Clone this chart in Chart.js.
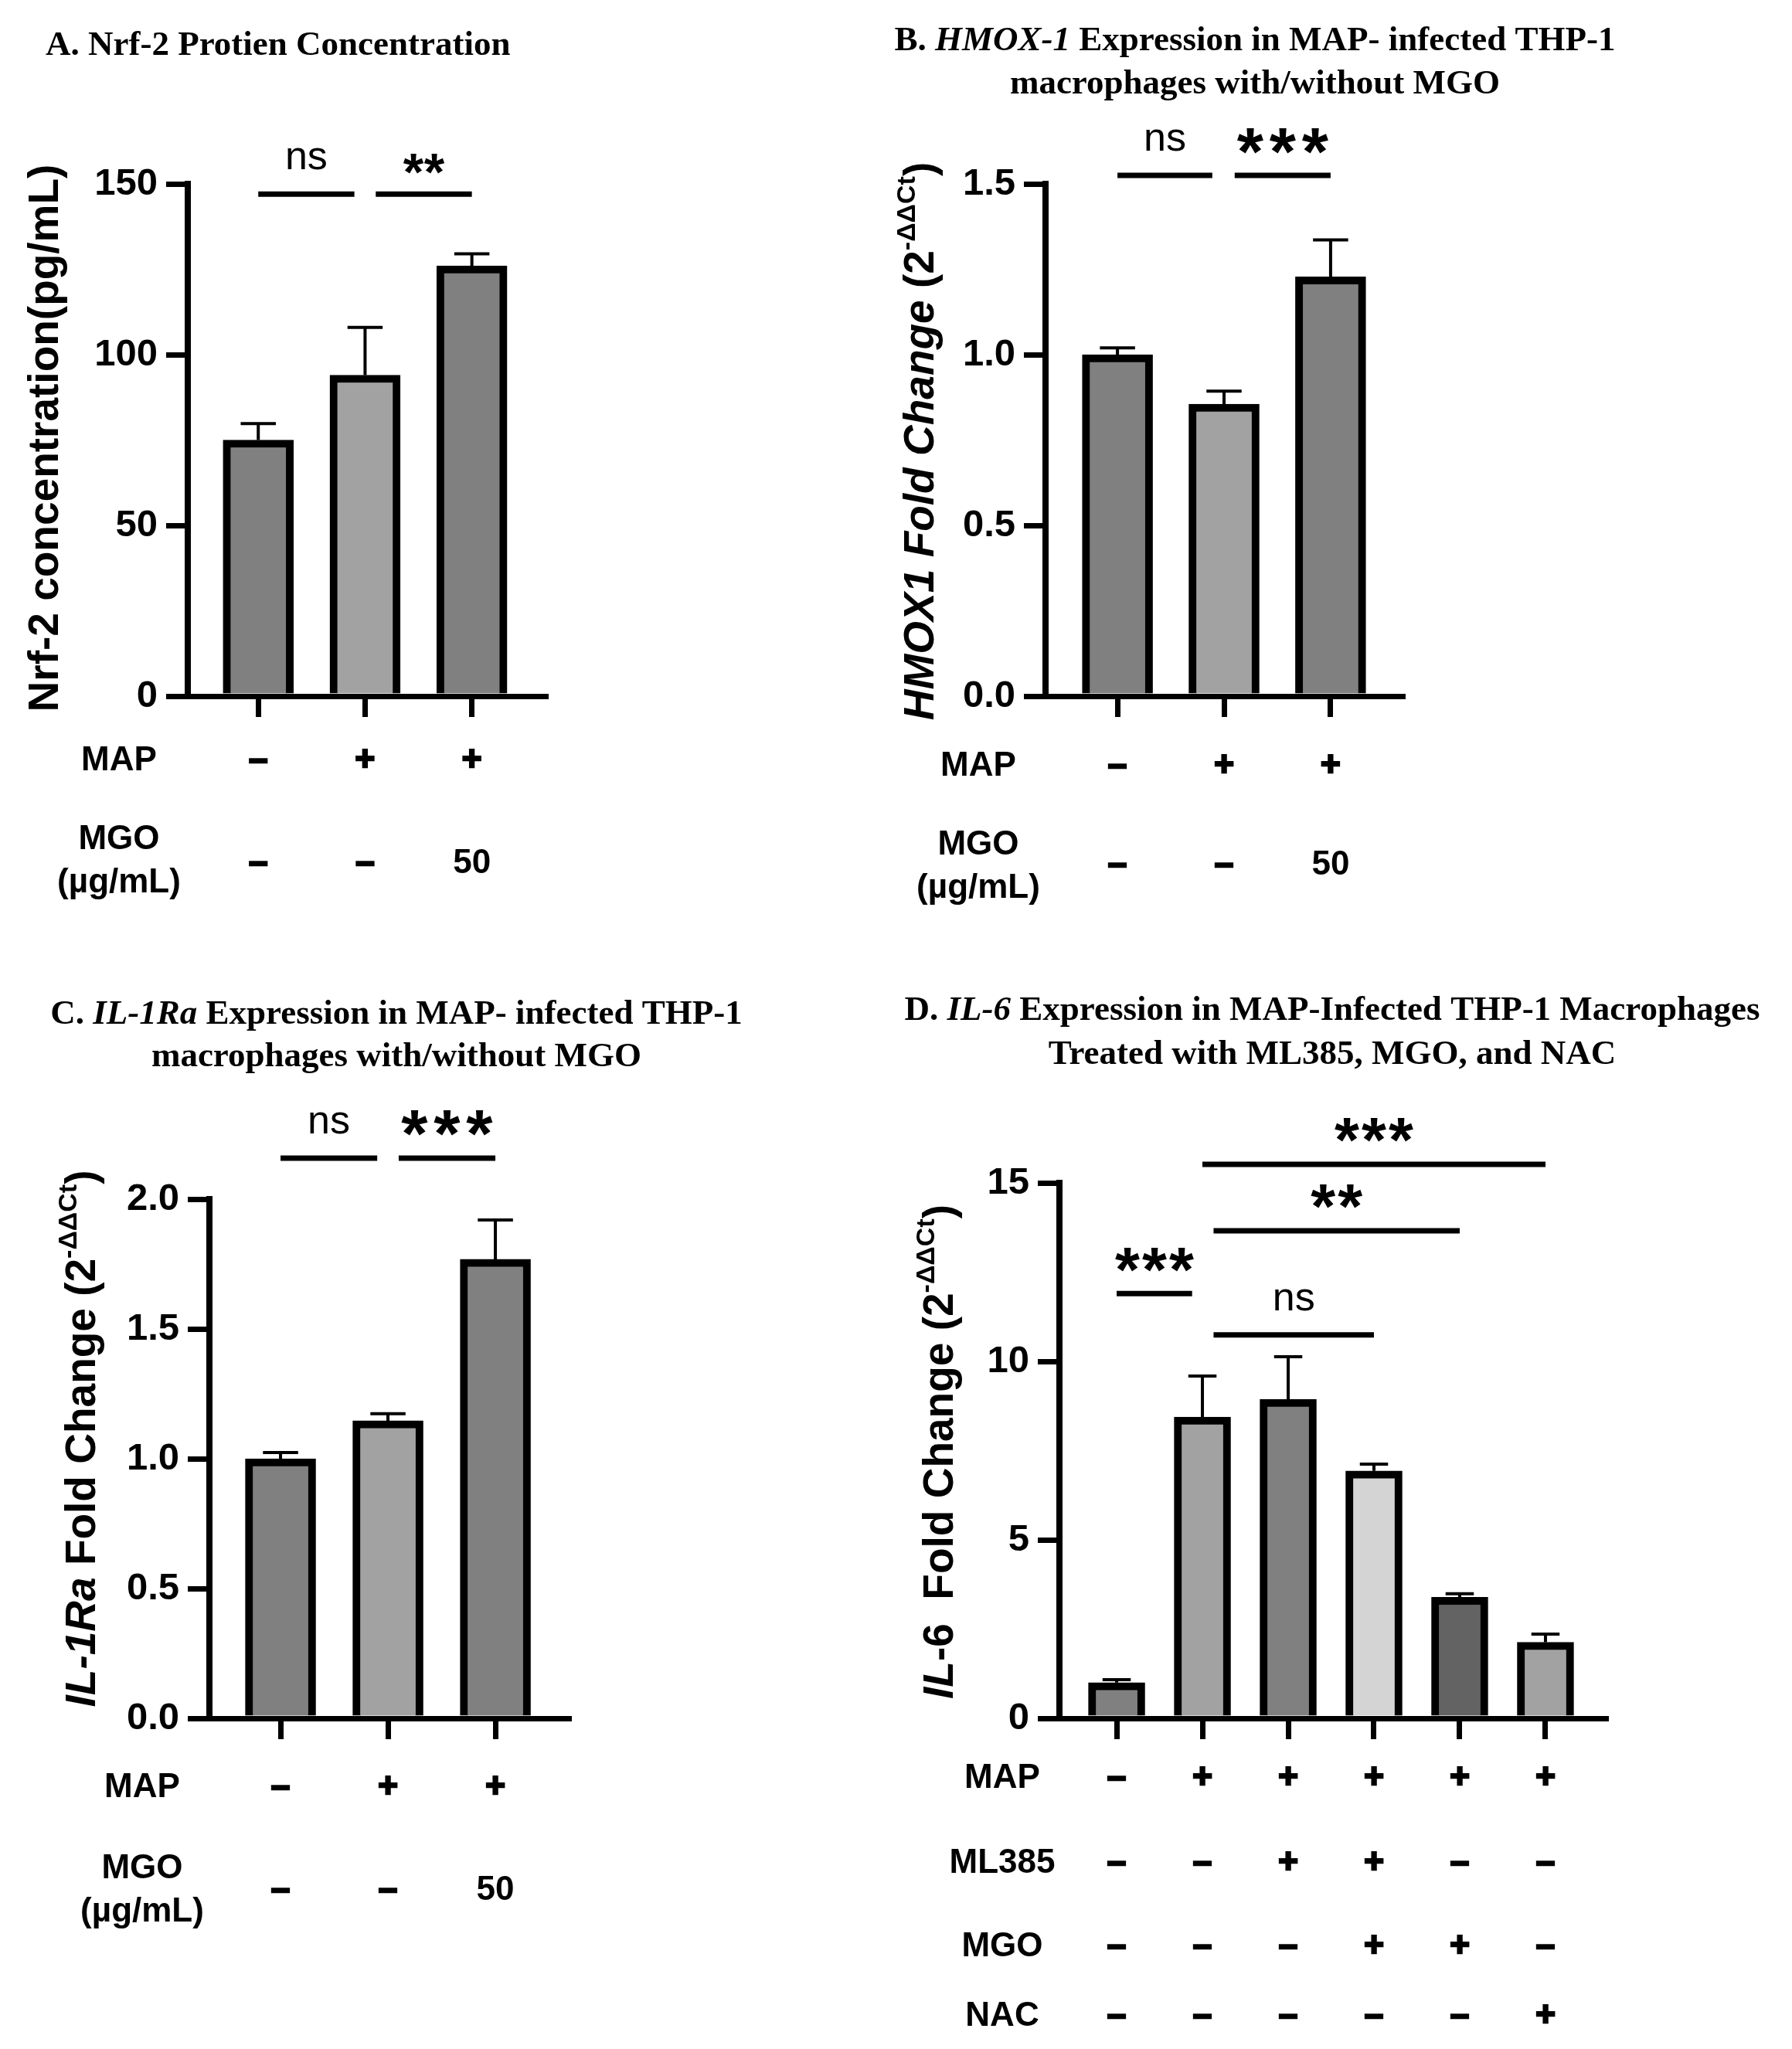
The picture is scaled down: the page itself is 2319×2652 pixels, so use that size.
<!DOCTYPE html>
<html>
<head>
<meta charset="utf-8">
<title>Nrf-2 / HMOX-1 / IL-1Ra / IL-6 in MAP-infected THP-1 macrophages</title>
<script src="https://cdn.jsdelivr.net/npm/chart.js@4.4.0/dist/chart.umd.min.js"></script>
<style>
  body { margin: 0; background: #fff; }
  #page { position: relative; width: 2319px; height: 2652px; background: #fff; }
  #page canvas { position: absolute; }
</style>
</head>
<body>
<div id="page">
  <canvas id="chartA" width="1140" height="1270" style="left:0px;top:0px"></canvas>
  <canvas id="chartB" width="1179" height="1270" style="left:1140px;top:0px"></canvas>
  <canvas id="chartC" width="1140" height="1382" style="left:0px;top:1270px"></canvas>
  <canvas id="chartD" width="1179" height="1382" style="left:1140px;top:1270px"></canvas>
</div>
<script>
const SANS = '"Liberation Sans", Arial, Helvetica, sans-serif';
const SERIF = '"Liberation Serif", "Times New Roman", serif';
Chart.defaults.font.family = SANS;
Chart.defaults.color = '#000';

// ---------------- data ----------------
// A. Nrf-2 protein (pg/mL)
const nrfMeans  = [75, 94, 126];
const nrfUpper  = [79.8, 108, 129.5];          // mean + error
const nrfColors = ['#808080', '#a2a2a2', '#808080'];
const nrfTicks  = [0, 50, 100, 150];
const nrfMAP    = ['–', '+', '+'];
const nrfMGO    = ['–', '–', '50'];
const nrfSig    = [[0, 0.9, 147, 'ns'], [1.1, 2, 147, '**']];

// B. HMOX1 fold change
const hmoxMeans  = [1.0, 0.855, 1.228];
const hmoxUpper  = [1.02, 0.893, 1.336];
const hmoxColors = ['#808080', '#a2a2a2', '#808080'];
const hmoxTicks  = [0, 0.5, 1.0, 1.5];
const hmoxMAP    = ['–', '+', '+'];
const hmoxMGO    = ['–', '–', '50'];
const hmoxSig    = [[0, 0.89, 1.525, 'ns'], [1.1, 2, 1.525, '***']];

// C. IL-1Ra fold change
const il1Means  = [1.0, 1.146, 1.768];
const il1Upper  = [1.024, 1.173, 1.92];
const il1Colors = ['#808080', '#a2a2a2', '#808080'];
const il1Ticks  = [0, 0.5, 1.0, 1.5, 2.0];
const il1MAP    = ['–', '+', '+'];
const il1MGO    = ['–', '–', '50'];
const il1Sig    = [[0, 0.9, 2.158, 'ns'], [1.1, 2, 2.158, '***']];

// D. IL-6 fold change
const il6Means  = [1.0, 8.44, 8.94, 6.93, 3.39, 2.13];
const il6Upper  = [1.08, 9.59, 10.13, 7.12, 3.49, 2.36];
const il6Colors = ['#808080', '#a2a2a2', '#808080', '#d4d4d4', '#636363', '#a2a2a2'];
const il6Ticks  = [0, 5, 10, 15];
const il6MAP    = ['–', '+', '+', '+', '+', '+'];
const il6ML385  = ['–', '–', '+', '+', '–', '–'];
const il6MGO    = ['–', '–', '–', '+', '+', '–'];
const il6NAC    = ['–', '–', '–', '–', '–', '+'];
const il6Sig    = [[0, 0.88, 11.9, '***'], [1.13, 3, 10.74, 'ns'], [1.13, 4, 13.66, '**'], [1, 5, 15.52, '***']];

// ---------------- layout (page pixels) ----------------
const panels = [
  {
    canvas: 'chartA', box: {left: 0, top: 0, w: 1140, h: 1270},
    area: {left: 243, right: 706, top: 238, bottom: 901}, xMin: -0.66, xMax: 2.69,
    means: nrfMeans, upper: nrfUpper, colors: nrfColors, ticks: nrfTicks, dec: 0, yMax: 150,
    barWidth: 91, sig: nrfSig, star: {size: 68, pitch: 27, rise: 39},
    title: {align: 'left', x: 59, y: [71], lines: [[['A. Nrf-2 Protien Concentration']]]},
    yTitle: {x: 75, y: 567, segs: [['Nrf-2 concentration(pg/mL)']]},
    headX: 154,
    rows: [
      {vals: nrfMAP, y: 985, head: [['MAP', 985]]},
      {vals: nrfMGO, y: 1118, head: [['MGO', 1087], ['(µg/mL)', 1143]]}
    ]
  },
  {
    canvas: 'chartB', box: {left: 1140, top: 0, w: 1179, h: 1270},
    area: {left: 1353, right: 1815, top: 238, bottom: 901}, xMin: -0.675, xMax: 2.675,
    means: hmoxMeans, upper: hmoxUpper, colors: hmoxColors, ticks: hmoxTicks, dec: 1, yMax: 1.5,
    barWidth: 91, sig: hmoxSig, star: {size: 88, pitch: 42, rise: 44},
    title: {align: 'center', x: 1624, y: [65, 121], lines: [
      [['B. '], ['HMOX-1', 'i'], [' Expression in MAP- infected THP-1']],
      [['macrophages with/without MGO']]
    ]},
    yTitle: {x: 1208, y: 571, segs: [['HMOX1 Fold Change', 'i'], [' (2'], ['-ΔΔCt', 's'], [')']]},
    headX: 1266,
    rows: [
      {vals: hmoxMAP, y: 992, head: [['MAP', 992]]},
      {vals: hmoxMGO, y: 1120, head: [['MGO', 1094], ['(µg/mL)', 1150]]}
    ]
  },
  {
    canvas: 'chartC', box: {left: 0, top: 1270, w: 1140, h: 1382},
    area: {left: 271, right: 736, top: 1552, bottom: 2224}, xMin: -0.662, xMax: 2.683,
    means: il1Means, upper: il1Upper, colors: il1Colors, ticks: il1Ticks, dec: 1, yMax: 2,
    barWidth: 91, sig: il1Sig, star: {size: 88, pitch: 42, rise: 45},
    title: {align: 'center', x: 513, y: [1325, 1380], lines: [
      [['C. '], ['IL-1Ra', 'i'], [' Expression in MAP- infected THP-1']],
      [['macrophages with/without MGO']]
    ]},
    yTitle: {x: 123, y: 1862, segs: [['IL-1Ra', 'i'], [' Fold Change (2'], ['-ΔΔCt', 's'], [')']]},
    headX: 184,
    rows: [
      {vals: il1MAP, y: 2314, head: [['MAP', 2314]]},
      {vals: il1MGO, y: 2447, head: [['MGO', 2419], ['(µg/mL)', 2475]]}
    ]
  },
  {
    canvas: 'chartD', box: {left: 1140, top: 1270, w: 1179, h: 1382},
    area: {left: 1371, right: 2078, top: 1531, bottom: 2224}, xMin: -0.667, xMax: 5.703,
    means: il6Means, upper: il6Upper, colors: il6Colors, ticks: il6Ticks, dec: 0, yMax: 15,
    barWidth: 73, sig: il6Sig, star: {size: 82, pitch: 35, rise: 44},
    title: {align: 'center', x: 1724, y: [1320, 1377], lines: [
      [['D. '], ['IL-6', 'i'], [' Expression in MAP-Infected THP-1 Macrophages']],
      [['Treated with ML385, MGO, and NAC']]
    ]},
    yTitle: {x: 1233, y: 1879, segs: [['IL', 'i'], ['-6  Fold Change (2'], ['-ΔΔCt', 's'], [')']]},
    headX: 1297,
    rows: [
      {vals: il6MAP, y: 2302, head: [['MAP', 2302]]},
      {vals: il6ML385, y: 2412, head: [['ML385', 2412]]},
      {vals: il6MGO, y: 2520, head: [['MGO', 2520]]},
      {vals: il6NAC, y: 2610, head: [['NAC', 2610]]}
    ]
  }
];

// draws a run of [text, style] pieces; style 'i' italic, 's' superscript
function drawRich(ctx, segs, x, y, align, fontOf) {
  let w = 0;
  segs.forEach(s => { ctx.font = fontOf(s); w += ctx.measureText(s[0]).width; });
  let cx = align === 'center' ? x - w / 2 : x;
  ctx.textAlign = 'left';
  ctx.textBaseline = 'alphabetic';
  segs.forEach(s => {
    ctx.font = fontOf(s);
    ctx.fillText(s[0], cx, y - (s[1] === 's' ? 24 : 0));
    cx += ctx.measureText(s[0]).width;
  });
}

const titleFont = s => (s[1] === 'i' ? 'italic ' : '') + 'bold 45px ' + SERIF;
const axisFont = s => s[1] === 's' ? 'bold 34px ' + SANS : (s[1] === 'i' ? 'italic ' : '') + 'bold 55px ' + SANS;

// error bars, significance bars, row labels and titles for one panel
function decor(L) {
  return {
    id: 'decor',
    afterDatasetsDraw(chart) {
      const ctx = chart.ctx, ys = chart.scales.y;
      const bars = chart.getDatasetMeta(0).data;
      ctx.save();
      ctx.strokeStyle = '#000';
      ctx.lineWidth = 4;
      L.upper.forEach((v, i) => {
        const b = bars[i], top = ys.getPixelForValue(v), half = L.barWidth / 4;
        ctx.beginPath();
        ctx.moveTo(b.x, b.y);
        ctx.lineTo(b.x, top);
        ctx.moveTo(b.x - half, top);
        ctx.lineTo(b.x + half, top);
        ctx.stroke();
      });
      ctx.restore();
    },
    afterDraw(chart) {
      const ctx = chart.ctx, xs = chart.scales.x, ys = chart.scales.y;
      const ox = L.box.left, oy = L.box.top;
      const px = v => xs.getPixelForValue(v) + ox;
      const py = v => ys.getPixelForValue(v) + oy;
      ctx.save();
      ctx.translate(-ox, -oy);
      ctx.fillStyle = '#000';
      ctx.strokeStyle = '#000';

      // significance bars
      ctx.lineWidth = 7;
      L.sig.forEach(([a, b, yv, lab]) => {
        const x1 = px(a), x2 = px(b), y = py(yv), cx = (x1 + x2) / 2;
        ctx.beginPath();
        ctx.moveTo(x1, y);
        ctx.lineTo(x2, y);
        ctx.stroke();
        ctx.textAlign = 'center';
        ctx.textBaseline = 'alphabetic';
        if (lab[0] === '*') {
          ctx.font = 'bold ' + L.star.size + 'px ' + SANS;
          const m = ctx.measureText('*');
          const base = y - L.star.rise + (m.actualBoundingBoxAscent - m.actualBoundingBoxDescent) / 2;
          for (let k = 0; k < lab.length; k++) {
            ctx.fillText('*', cx + (k - (lab.length - 1) / 2) * L.star.pitch, base);
          }
        } else {
          ctx.font = '52px ' + SANS;
          ctx.fillText(lab, cx, y - 32);
        }
      });

      // treatment rows under the x axis (the +/– marks are stroked a little to look heavier)
      ctx.font = 'bold 44px ' + SANS;
      ctx.textAlign = 'center';
      ctx.textBaseline = 'middle';
      ctx.lineWidth = 2.5;
      L.rows.forEach(r => {
        r.head.forEach(([t, y]) => ctx.fillText(t, L.headX, y));
        r.vals.forEach((t, i) => {
          ctx.fillText(t, px(i), r.y);
          if (t === '+' || t === '–') ctx.strokeText(t, px(i), r.y);
        });
      });

      // panel title
      L.title.lines.forEach((segs, k) => drawRich(ctx, segs, L.title.x, L.title.y[k], L.title.align, titleFont));

      // y axis title, rotated
      ctx.translate(L.yTitle.x, L.yTitle.y);
      ctx.rotate(-Math.PI / 2);
      drawRich(ctx, L.yTitle.segs, 0, 0, 'center', axisFont);
      ctx.restore();
    }
  };
}

function buildPanel(L) {
  return new Chart(document.getElementById(L.canvas), {
    type: 'bar',
    data: {
      datasets: [{
        data: L.means.map((v, i) => ({x: i, y: v})),
        backgroundColor: L.colors,
        borderColor: '#000',
        borderWidth: 10,
        borderSkipped: 'start',
        barThickness: L.barWidth
      }]
    },
    options: {
      responsive: false,
      animation: false,
      devicePixelRatio: 1,
      layout: {
        padding: {
          left: 0,
          top: L.area.top - L.box.top,
          right: L.box.left + L.box.w - L.area.right,
          bottom: 0
        }
      },
      plugins: {
        legend: {display: false},
        tooltip: {enabled: false}
      },
      scales: {
        x: {
          type: 'linear',
          min: L.xMin,
          max: L.xMax,
          offset: false,
          z: 1,                       // axis line drawn over the bar bottoms
          ticks: {display: false},
          grid: {offset: false, drawOnChartArea: false, drawTicks: true, tickLength: 27, lineWidth: 7, color: '#000'},
          border: {display: true, width: 7, color: '#000'},
          afterBuildTicks: s => { s.ticks = L.means.map((_, i) => ({value: i})); },
          afterFit: s => { s.height = L.box.top + L.box.h - L.area.bottom; }
        },
        y: {
          min: 0,
          max: L.yMax,
          ticks: {
            autoSkip: false,
            padding: 11,
            color: '#000',
            font: {size: 49, weight: 'bold'},
            callback: v => v.toFixed(L.dec)
          },
          grid: {drawOnChartArea: false, drawTicks: true, tickLength: 28, lineWidth: 7, color: '#000'},
          border: {display: true, width: 8, color: '#000'},
          afterBuildTicks: s => { s.ticks = L.ticks.map(v => ({value: v})); },
          afterFit: s => { s.width = L.area.left - L.box.left; }
        }
      }
    },
    plugins: [decor(L)]
  });
}

panels.forEach(buildPanel);
</script>
</body>
</html>
